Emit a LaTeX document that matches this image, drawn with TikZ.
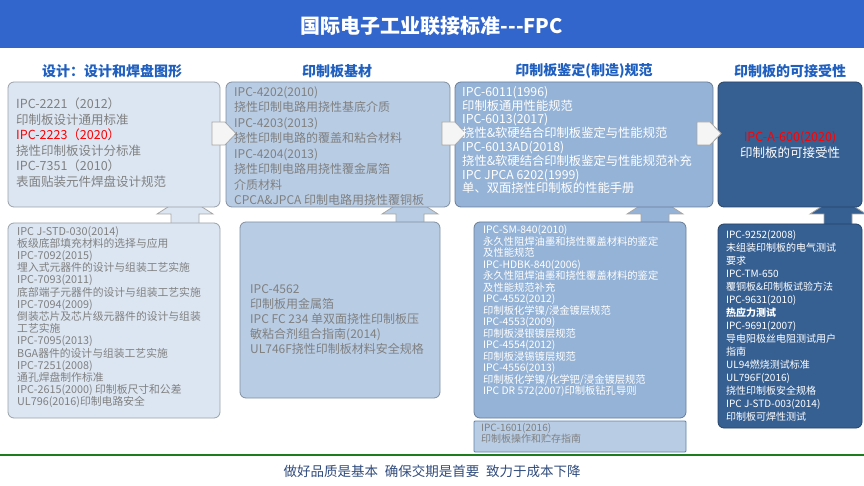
\documentclass[tikz,border=0pt]{standalone}
\usepackage{fontspec}
\setmainfont{Noto Sans CJK SC}
\begin{document}
\begin{tikzpicture}[x=1pt,y=-1pt,
 box/.style={draw=#1!70!black,rounded corners=6pt,line width=0.8pt},
 txt/.style={anchor=north west,align=left,inner sep=0pt},
 hd/.style={font=\fontsize{14}{16}\selectfont\bfseries,text=hblue},
 arr/.style={fill=gray!8,draw=gray!70,line width=0.8pt},
 uparr/.style={draw=gray!70,line width=0.8pt}]
\definecolor{tblue}{HTML}{3366CC}
\definecolor{hblue}{HTML}{1F5FBF}
\definecolor{c1}{HTML}{DCE6F2}
\definecolor{c2}{HTML}{B8CCE4}
\definecolor{c3}{HTML}{95B3D7}
\definecolor{c4}{HTML}{376092}
\definecolor{tg}{HTML}{808080}
\definecolor{fgreen}{HTML}{1E7B1E}
\definecolor{fblue}{HTML}{2F4B7C}
\useasboundingbox (0,0) rectangle (864,486);
\fill[tblue] (0,0) rectangle (864,48);
\node[text=white,font=\fontsize{20}{22}\selectfont\bfseries] (title) at (432,26) {国际电子工业联接标准{-}{-}{-}FPC};
\node[hd] (h1) at (112,71) {设计：设计和焊盘图形};
\node[hd] (h2) at (337,71) {印制板基材};
\node[hd] (h3) at (584,71) {印制板鉴定(制造)规范};
\node[hd] (h4) at (790,71) {印制板的可接受性};
% up arrows (behind boxes)
\foreach \cx/\col in {185/c1,410/c2,655/c3,838/c4}{
 \filldraw[uparr,fill=\col] (\cx-14,230) -- (\cx-14,214) -- (\cx-28,214) -- (\cx,196) -- (\cx+28,214) -- (\cx+14,214) -- (\cx+14,230);
}
% upper boxes
\filldraw[box=c1,fill=c1] (8,82) rectangle (220,207);
\filldraw[box=c2,fill=c2] (226,82) rectangle (450,207);
\filldraw[box=c3,fill=c3] (455,82) rectangle (713,207);
\filldraw[box=c4,fill=c4] (718,82) rectangle (862,207);
% right arrows
\foreach \x in {212,442,697}{
 \filldraw[arr] (\x,122) -- (\x+13,122) -- (\x+24,133.5) -- (\x+13,145) -- (\x,145) -- cycle;
}
\node[txt,text=tg,font=\fontsize{12.5}{15.5}\selectfont] (t1) at (16,98) {IPC-2221（2012）\\印制板设计通用标准\\\textcolor{red}{IPC-2223（2020）}\\挠性印制板设计分标准\\IPC-7351（2010）\\表面贴装元件焊盘设计规范};
\node[txt,text=tg,font=\fontsize{12}{15.5}\selectfont] (t2) at (234,86) {IPC-4202(2010)\\挠性印制电路用挠性基底介质\\IPC-4203(2013)\\挠性印制电路的覆盖和粘合材料\\IPC-4204(2013)\\挠性印制电路用挠性覆金属箔\\介质材料\\CPCA\&JPCA 印制电路用挠性覆铜板};
\node[txt,text=white,font=\fontsize{12.3}{13.8}\selectfont] (t3) at (462,86) {IPC-6011(1996)\\印制板通用性能规范\\IPC-6013(2017)\\挠性\&软硬结合印制板鉴定与性能规范\\IPC-6013AD(2018)\\挠性\&软硬结合印制板鉴定与性能规范补充\\IPC JPCA 6202(1999)\\单、双面挠性印制板的性能手册};
\node[align=center,font=\fontsize{12.5}{16}\selectfont,text=white] (t4) at (790,145) {\textcolor{red}{IPC-A-600(2020)}\\印制板的可接受性};
% lower boxes
\filldraw[box=c1,fill=c1] (8,223) rectangle (220,418);
\filldraw[box=c2,fill=c2] (240,222) rectangle (440,398);
\filldraw[box=c3,fill=c3] (474,222) rectangle (686,418);
\filldraw[draw=c4!80,fill=c2,line width=0.8pt,rounded corners=1pt] (474,421) rectangle (686,452);
\filldraw[box=c4,fill=c4] (718,224) rectangle (862,428);
\node[txt,text=tg,font=\fontsize{10.8}{12.2}\selectfont] (b1) at (17,226) {IPC J-STD-030(2014)\\板级底部填充材料的选择与应用\\IPC-7092(2015)\\埋入式元器件的设计与组装工艺实施\\IPC-7093(2011)\\底部端子元器件的设计与组装工艺实施\\IPC-7094(2009)\\倒装芯片及芯片级元器件的设计与组装\\工艺实施\\IPC-7095(2013)\\BGA器件的设计与组装工艺实施\\IPC-7251(2008)\\通孔焊盘制作标准\\IPC-2615(2000) 印制板尺寸和公差\\UL796(2016)印制电路安全};
\node[txt,text=tg,font=\fontsize{12}{15.2}\selectfont] (b2) at (250,284) {IPC-4562\\印制板用金属箔\\IPC FC 234 单双面挠性印制板压\\敏粘合剂组合指南(2014)\\UL746F挠性印制板材料安全规格};
\node[txt,text=white,font=\fontsize{10.3}{11.5}\selectfont] (b3) at (483,225) {IPC-SM-840(2010)\\永久性阻焊油墨和挠性覆盖材料的鉴定\\及性能规范\\IPC-HDBK-840(2006)\\永久性阻焊油墨和挠性覆盖材料的鉴定\\及性能规范补充\\IPC-4552(2012)\\印制板化学镍/浸金镀层规范\\IPC-4553(2009)\\印制板浸银镀层规范\\IPC-4554(2012)\\印制板浸锡镀层规范\\IPC-4556(2013)\\印制板化学镍/化学钯/浸金镀层规范\\IPC DR 572(2007)印制板钻孔导则};
\node[txt,text=tg,font=\fontsize{10}{11.4}\selectfont] (b3b) at (481,423) {IPC-1601(2016)\\印制板操作和贮存指南};
\node[txt,text=white,font=\fontsize{10}{13}\selectfont] (b4) at (726,230) {IPC-9252(2008)\\未组装印制板的电气测试\\要求\\IPC-TM-650\\覆铜板\&印制板试验方法\\IPC-9631(2010)\\\textbf{热应力测试}\\IPC-9691(2007)\\导电阳极丝电阻测试用户\\指南\\UL94燃烧测试标准\\UL796F(2016)\\挠性印制板安全规格\\IPC J-STD-003(2014)\\印制板可焊性测试};
% footer
\draw[fgreen,line width=2pt] (0,455) -- (864,455);
\node[text=fblue,font=\fontsize{13.5}{15}\selectfont] (foot) at (432,471) {做好品质是基本\enspace 确保交期是首要\enspace 致力于成本下降};
\end{tikzpicture}
\end{document}
